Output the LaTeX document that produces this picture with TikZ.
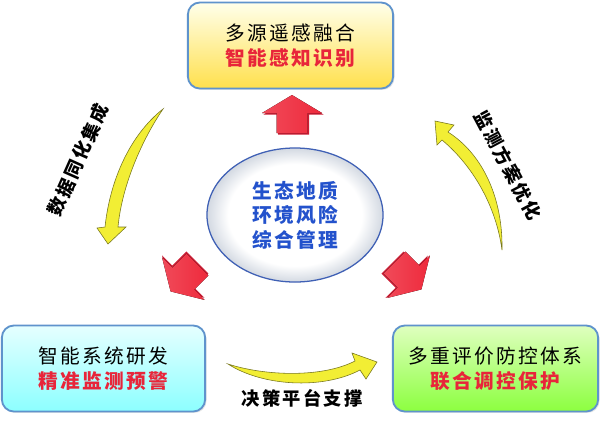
\documentclass[tikz,border=0pt]{standalone}
\usepackage{fontspec}
\usepackage{tikz}
\usetikzlibrary{shapes.geometric,shadows}
\newfontfamily\cjk[LetterSpace=12]{Noto Sans CJK SC}
\definecolor{boxline}{HTML}{5F93CC}
\definecolor{textred}{HTML}{E8253A}
\definecolor{hotred}{HTML}{EE2A3C}
\definecolor{deepred}{HTML}{CC1C34}
\definecolor{lemon}{HTML}{F2EE34}
\definecolor{olive}{HTML}{77761E}
\definecolor{coreblue}{HTML}{2352CC}
\definecolor{coregray}{HTML}{C4CCD8}
\pgfdeclareradialshading{coreglow}{\pgfpoint{0bp}{0bp}}{color(0bp)=(white); color(19bp)=(white); color(27bp)=(coregray); color(50bp)=(coregray)}
\tikzset{
  box/.style={draw=boxline, line width=1.3pt, rounded corners=0.3cm, minimum height=2.15cm,
    inner sep=0pt, align=center, drop shadow={shadow xshift=1pt, shadow yshift=-1pt, opacity=0.2},
    font=\cjk\fontsize{14}{17.5}\selectfont},
  redarrow/.style={left color=hotred!85!white, right color=hotred},
  flow/.style={fill=lemon, draw=olive, line width=0.4pt},
  tag/.style={inner sep=0pt, font=\cjk\bfseries\fontsize{13}{15}\selectfont}
}
\begin{document}
\begin{tikzpicture}[x=0.025cm, y=-0.025cm]
\useasboundingbox (0,0) rectangle (600,424);
\fill[white] (0,0) rectangle (600,424);

\node[box, minimum width=5.13cm, top color=yellow!8, middle color=yellow!30!white, bottom color=yellow!65!orange!70!white]
  (sense) at (290.5,45.5) {多源遥感融合\\\textcolor{textred}{\bfseries 智能感知识别}};
\node[box, minimum width=5.08cm, top color=cyan!10, middle color=cyan!25!white, bottom color=cyan!45!white]
  (system) at (103.5,368.5) {智能系统研发\\\textcolor{textred}{\bfseries 精准监测预警}};
\node[box, minimum width=5.13cm, top color=green!50!yellow!25!white, middle color=green!60!yellow!50!white, bottom color=green!60!yellow!75!white]
  (control) at (495.5,368.5) {多重评价防控体系\\\textcolor{textred}{\bfseries 联合调控保护}};

\node[ellipse, draw=coreblue!70!gray, line width=0.9pt, minimum width=4.4cm, minimum height=3.35cm, inner sep=0pt,
  shading=coreglow, align=center, text=coreblue,
  font=\cjk\bfseries\fontsize{14}{17.5}\selectfont] (core) at (295,215) {生态地质\\环境风险\\综合管理};

\foreach \px/\py/\ang in {292/114/0, 184/278/135, 408/276/-135}{
  \begin{scope}[shift={(\px,\py)}, rotate=\ang]
    \fill[deepred] (1.5,-17.5) -- (31.5,0.5) -- (17,0.5) -- (17,20.5) -- (-14,20.5) -- (-14,0.5) -- (-28.5,0.5) -- cycle;
    \fill[redarrow] (0,-19) -- (30,-1) -- (15.5,-1) -- (15.5,19) -- (-15.5,19) -- (-15.5,-1) -- (-30,-1) -- cycle;
  \end{scope}
}

\coordinate (fuse-tail) at (163,109);
\coordinate (fuse-tip) at (108,244);
\filldraw[flow] (fuse-tail) .. controls (130,135) and (110,180) .. (105,227) -- (97,228) -- (fuse-tip)
  -- (126,227) -- (118,227) .. controls (122,185) and (142,140) .. (fuse-tail) -- cycle;

\coordinate (plat-tail) at (228,364);
\coordinate (plat-tip) at (377,362);
\filldraw[flow] (plat-tail) .. controls (265,376) and (322,378) .. (355,361) -- (352,353) -- (plat-tip)
  -- (366,379) -- (360,370) .. controls (322,390) and (262,386) .. (plat-tail) -- cycle;

\coordinate (plan-tail) at (502,250);
\coordinate (plan-tip) at (435,121);
\filldraw[flow] (plan-tail) .. controls (496,205) and (472,165) .. (442,140) -- (437,145) -- (plan-tip)
  -- (454,125) -- (448,132) .. controls (484,155) and (503,200) .. (plan-tail) -- cycle;

\node[tag, rotate=66] (fuse-label) at (78,160) {数据同化集成};
\node[tag, rotate=-62] (plan-label) at (508,165) {监测方案优化};
\node[tag] (plat-label) at (302,398) {决策平台支撑};
\end{tikzpicture}
\end{document}
